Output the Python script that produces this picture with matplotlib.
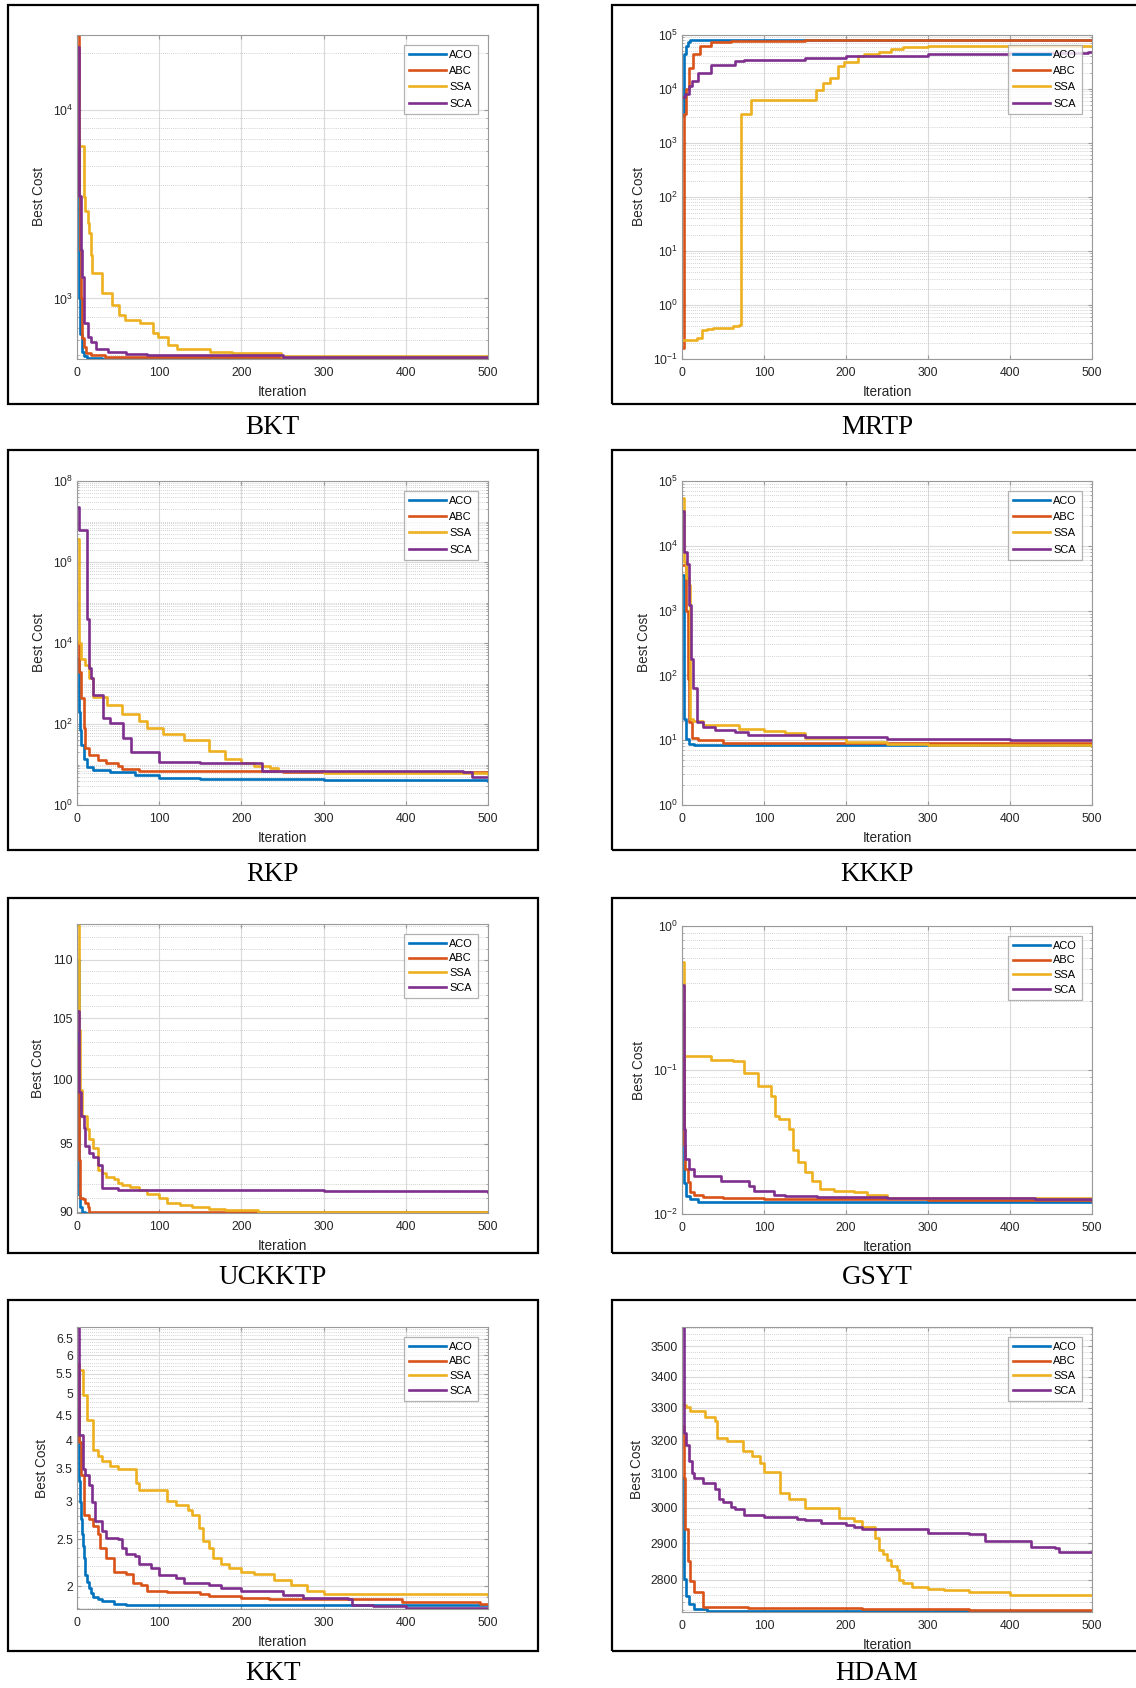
import numpy as np
import matplotlib
matplotlib.use('Agg')
import matplotlib.pyplot as plt
from matplotlib.patches import Rectangle
from matplotlib.ticker import (FixedLocator, LogLocator, LogFormatterSciNotation,
                               MultipleLocator, NullFormatter)

plt.rcParams['font.family'] = ['Liberation Sans', 'DejaVu Sans']
plt.rcParams['mathtext.default'] = 'regular'

W, H = 1136, 1688  # output size in pixels

algorithms = ['ACO', 'ABC', 'SSA', 'SCA']
colors = ['#0072BD', '#D95319', '#EDB120', '#7E2F8E']
iter_ticks = [0, 100, 200, 300, 400, 500]

# best cost per iteration as (iteration, cost) breakpoints
bkt_aco = [(1, 7100), (2, 2200), (3, 1000), (4, 650), (6, 520), (8, 495), (12, 485), (30, 480), (500, 478)]
bkt_abc = [(1, 24800), (2, 9000), (3, 3500), (4, 1800), (5, 1000), (6, 620), (8, 555), (11, 512), (17, 502),
           (34, 491), (120, 487), (300, 484), (500, 483)]
bkt_ssa = [(1, 14000), (2, 9500), (3, 6400), (8, 3450), (10, 2900), (13, 2500), (15, 2210), (17, 1700),
           (18, 1356), (30, 1063), (43, 922), (51, 816), (58, 768), (77, 738), (92, 653), (98, 627),
           (111, 566), (122, 537), (162, 522), (188, 512), (248, 496), (500, 496)]
bkt_sca = [(1, 21500), (2, 8000), (3, 3500), (5, 1800), (6, 1300), (8, 740), (13, 627), (17, 590),
           (23, 543), (38, 522), (60, 508), (85, 500), (250, 488), (500, 485)]

mrtp_aco = [(1, 3200), (2, 25000), (3, 45000), (5, 63000), (7, 74000), (10, 81000), (15, 82000), (500, 82000)]
mrtp_abc = [(1, 0.158), (2, 3500), (5, 10000), (8, 25000), (14, 44000), (22, 63000), (35, 74000),
            (60, 78000), (150, 80500), (500, 81000)]
mrtp_ssa = [(1, 0.225), (18, 0.24), (24, 0.344), (30, 0.36), (38, 0.38), (62, 0.41), (70, 0.425),
            (72, 3440), (84, 6350), (164, 9600), (172, 12700), (180, 16000), (190, 27000), (198, 32000),
            (215, 40000), (222, 44600), (240, 48000), (255, 55000), (270, 59000), (300, 62500), (500, 63000)]
mrtp_sca = [(1, 7000), (4, 8100), (8, 11500), (12, 13900), (20, 20000), (35, 28000), (65, 32700),
            (75, 35000), (150, 37500), (200, 40300), (300, 44500), (400, 46000), (495, 48000), (500, 48000)]

rkp_aco = [(1, 4100), (2, 1000), (3, 200), (4, 70), (5, 30), (8, 14), (12, 8.8), (20, 7.3), (40, 6.4),
           (70, 5.5), (100, 4.7), (150, 4.4), (300, 4.1), (500, 4.0)]
rkp_abc = [(1, 10700), (3, 1950), (5, 430), (8, 78), (10, 25), (15, 17), (25, 13), (35, 10.6), (50, 9.3),
           (55, 7.7), (75, 6.9), (250, 6.5), (500, 6.2)]
rkp_ssa = [(1, 3.6e6), (2, 23000), (3, 10000), (5, 4100), (10, 2850), (15, 1330), (20, 470), (37, 295),
           (55, 180), (75, 122), (85, 78), (105, 57), (130, 40), (160, 21), (180, 14), (200, 10.6),
           (215, 9.3), (235, 8.3), (245, 6.9), (300, 6.0), (500, 5.9)]
rkp_sca = [(1, 2.3e7), (2, 6e6), (12, 40000), (14, 2350), (17, 1330), (20, 515), (32, 137), (40, 103),
           (56, 44), (66, 20), (100, 11.7), (150, 10.6), (225, 6.9), (470, 6.6), (480, 5.0), (500, 5.0)]

kkkp_aco = [(1, 3500), (2, 89), (3, 21), (5, 10.5), (8, 8.8), (15, 8.3), (500, 8.0)]
kkkp_abc = [(1, 5000), (5, 1000), (7, 89), (9, 19), (12, 11), (20, 10), (50, 9.1), (500, 8.8)]
kkkp_ssa = [(1, 55000), (2, 5600), (5, 3150), (8, 2500), (10, 21), (13, 19.5), (25, 17), (70, 15),
            (100, 14), (125, 13), (150, 11), (200, 9.5), (250, 8.8), (300, 8.3), (500, 8.2)]
kkkp_sca = [(1, 34000), (3, 8000), (6, 5300), (8, 1220), (11, 180), (14, 63), (18, 19), (25, 16),
            (40, 14.6), (65, 13.3), (80, 12), (150, 11.4), (250, 10.5), (400, 10.2), (500, 10.2)]

uckktp_aco = [(1, 110.0), (2, 101.0), (3, 91.2), (4, 90.3), (6, 90.0), (10, 89.9), (500, 89.9)]
uckktp_abc = [(1, 102.7), (2, 96.2), (3, 93.8), (4, 91.0), (7, 90.9), (10, 90.6), (13, 90.3), (15, 90.0),
              (150, 89.95), (500, 89.9)]
uckktp_ssa = [(1, 113.2), (2, 110.0), (3, 104.0), (4, 99.2), (6, 97.1), (12, 96.1), (15, 95.4), (20, 94.7),
              (25, 93.0), (30, 92.8), (35, 92.5), (45, 92.4), (50, 92.1), (55, 91.9), (65, 91.8),
              (75, 91.6), (85, 91.3), (100, 91.0), (110, 90.6), (125, 90.5), (140, 90.3), (160, 90.2),
              (180, 90.1), (220, 90.0), (500, 89.95)]
uckktp_sca = [(1, 105.6), (2, 102.0), (3, 99.0), (5, 97.1), (8, 96.2), (10, 94.8), (15, 94.3), (20, 94.0),
              (25, 93.4), (30, 91.7), (50, 91.6), (140, 91.55), (300, 91.5), (500, 91.45)]

gsyt_aco = [(1, 0.0697), (2, 0.0253), (3, 0.0165), (5, 0.0133), (10, 0.0127), (20, 0.0122), (500, 0.0122)]
gsyt_abc = [(1, 0.25), (2, 0.086), (3, 0.030), (4, 0.0205), (7, 0.0167), (10, 0.0142), (15, 0.0135),
            (25, 0.0131), (50, 0.0130), (100, 0.0128), (300, 0.0125), (500, 0.0123)]
gsyt_ssa = [(1, 0.56), (2, 0.172), (3, 0.126), (35, 0.118), (62, 0.115), (75, 0.0958), (93, 0.078),
            (108, 0.066), (113, 0.048), (118, 0.0455), (130, 0.0387), (135, 0.028), (142, 0.0228),
            (150, 0.0195), (158, 0.017), (168, 0.0149), (185, 0.0145), (210, 0.0143), (225, 0.0135),
            (250, 0.0130), (500, 0.0127)]
gsyt_sca = [(1, 0.39), (2, 0.0387), (4, 0.024), (8, 0.0205), (15, 0.0184), (48, 0.017), (82, 0.0157),
            (88, 0.0145), (112, 0.0136), (125, 0.0134), (165, 0.0131), (250, 0.0129), (430, 0.0127),
            (500, 0.0126)]

kkt_aco = [(1, 4.6), (2, 3.62), (3, 3.3), (4, 2.99), (5, 2.75), (6, 2.56), (7, 2.42), (8, 2.29), (10, 2.11),
           (12, 2.04), (14, 1.985), (17, 1.94), (20, 1.905), (25, 1.88), (30, 1.865), (45, 1.84),
           (60, 1.83), (500, 1.83)]
kkt_abc = [(1, 5.77), (2, 4.24), (3, 3.98), (5, 3.40), (8, 2.81), (15, 2.76), (20, 2.67), (25, 2.56),
           (28, 2.40), (35, 2.29), (45, 2.14), (60, 2.12), (68, 2.03), (78, 2.016), (85, 1.96), (110, 1.95),
           (150, 1.93), (160, 1.91), (200, 1.89), (233, 1.88), (395, 1.86), (490, 1.84), (500, 1.84)]
kkt_ssa = [(1, 5.6), (7, 4.97), (12, 4.42), (20, 3.83), (25, 3.72), (30, 3.63), (40, 3.54), (50, 3.50),
           (72, 3.27), (75, 3.16), (110, 3.0), (120, 2.95), (135, 2.88), (140, 2.81), (148, 2.64),
           (153, 2.48), (160, 2.40), (165, 2.29), (175, 2.22), (185, 2.18), (200, 2.14), (215, 2.12),
           (240, 2.06), (260, 2.016), (280, 1.955), (300, 1.93), (500, 1.92)]
kkt_sca = [(1, 6.87), (2, 4.1), (7, 3.5), (10, 3.4), (15, 3.24), (18, 2.99), (22, 2.73), (30, 2.60),
           (35, 2.52), (50, 2.50), (55, 2.40), (60, 2.33), (70, 2.31), (75, 2.22), (90, 2.18), (100, 2.11),
           (120, 2.08), (130, 2.03), (160, 2.016), (175, 1.985), (200, 1.96), (240, 1.955), (250, 1.92),
           (275, 1.89), (330, 1.88), (335, 1.83), (360, 1.82), (400, 1.80), (500, 1.795)]

hdam_aco = [(1, 3085), (2, 2940), (3, 2802), (5, 2757), (8, 2735), (15, 2722), (30, 2718), (500, 2715)]
hdam_abc = [(1, 3242), (2, 3085), (4, 2940), (7, 2850), (10, 2796), (15, 2768), (25, 2728), (45, 2727),
            (80, 2725), (220, 2722), (350, 2720), (500, 2718)]
hdam_ssa = [(1, 3310), (5, 3302), (10, 3290), (28, 3270), (40, 3260), (43, 3206), (55, 3196), (74, 3168),
            (85, 3150), (95, 3130), (100, 3103), (120, 3041), (130, 3025), (150, 2999), (192, 2970),
            (210, 2962), (220, 2945), (235, 2915), (240, 2880), (245, 2871), (250, 2853), (255, 2836),
            (262, 2827), (265, 2800), (270, 2791), (280, 2781), (300, 2776), (320, 2774), (350, 2767),
            (400, 2759), (500, 2759)]
hdam_sca = [(1, 3565), (2, 3405), (3, 3222), (5, 3185), (8, 3135), (12, 3100), (15, 3085), (25, 3070),
            (40, 3054), (45, 3025), (50, 3015), (60, 3003), (65, 2995), (75, 2978), (100, 2972), (140, 2968),
            (150, 2964), (170, 2956), (200, 2951), (210, 2945), (220, 2940), (300, 2928), (350, 2924),
            (370, 2906), (425, 2889), (455, 2885), (460, 2874), (500, 2874)]

# y tick values for the panels with plain (non 10^k) labels
uckktp_yticks = [90, 95, 100, 105, 110]
kkt_yticks = [2, 2.5, 3, 3.5, 4, 4.5, 5, 5.5, 6, 6.5]
hdam_yticks = [2800, 2900, 3000, 3100, 3200, 3300, 3400, 3500]

# name, series, frame box (l, t, r, b px), axes box (l, t, r, b px), caption y, y limits, y ticks, minor step
panels = [
    ('BKT', [bkt_aco, bkt_abc, bkt_ssa, bkt_sca], (7.5, 4.5, 538, 404), (77, 35, 488, 359), 428,
     None, [1e3, 1e4], None),
    ('MRTP', [mrtp_aco, mrtp_abc, mrtp_ssa, mrtp_sca], (612, 4.5, 1145, 404), (682, 35, 1092, 359), 428,
     (0.1, 1e5), list(10.0 ** np.arange(-1, 6)), None),
    ('RKP', [rkp_aco, rkp_abc, rkp_ssa, rkp_sca], (7.5, 450, 538, 849.5), (77, 481, 488, 805), 874,
     (1, 1e8), list(10.0 ** np.arange(0, 9, 2)), None),
    ('KKKP', [kkkp_aco, kkkp_abc, kkkp_ssa, kkkp_sca], (612, 450, 1145, 849.5), (682, 481, 1092, 805), 874,
     (1, 1e5), list(10.0 ** np.arange(0, 6)), None),
    ('UCKKTP', [uckktp_aco, uckktp_abc, uckktp_ssa, uckktp_sca], (7.5, 897.5, 538, 1253),
     (77, 924, 488, 1213), 1277, None, uckktp_yticks, 1),
    ('GSYT', [gsyt_aco, gsyt_abc, gsyt_ssa, gsyt_sca], (612, 897.5, 1145, 1253), (682, 926, 1092, 1214), 1277,
     (0.01, 1), [0.01, 0.1, 1], None),
    ('KKT', [kkt_aco, kkt_abc, kkt_ssa, kkt_sca], (7.5, 1299.5, 538, 1650.5), (77, 1327, 488, 1609), 1674,
     None, kkt_yticks, 0.1),
    ('HDAM', [hdam_aco, hdam_abc, hdam_ssa, hdam_sca], (612, 1299.5, 1145, 1650.5), (682, 1327, 1092, 1612), 1674,
     None, hdam_yticks, 20),
]

fig = plt.figure(figsize=(W / 100, H / 100), dpi=100)
fig.patch.set_facecolor('white')

for i, (name, series, frame, box, cap_y, ylim, yticks, minor_step) in enumerate(panels):
    # black frame around each sub-figure
    fl, ft, fr, fb = frame
    fig.add_artist(Rectangle((fl / W, 1 - fb / H), (fr - fl) / W, (fb - ft) / H,
                             transform=fig.transFigure, fill=False, ec='black', lw=1.6))
    cx = (fl + 538) / 2 / W if fl < 100 else 877 / W
    fig.text(cx, 1 - cap_y / H, name, ha='center', va='center', fontsize=19.5,
             family=['Liberation Serif', 'DejaVu Serif'])

    l, t, r, b = box
    ax = fig.add_axes([l / W, 1 - b / H, (r - l) / W, (b - t) / H])
    for (pts, alg, col) in zip(series, algorithms, colors):
        its = [p[0] for p in pts]
        cost = [p[1] for p in pts]
        ax.step(its, cost, where='post', color=col, lw=1.9, label=alg)

    ax.set_yscale('log')
    ax.set_xlim(0, 500)
    if ylim is None:
        allc = [p[1] for pts in series for p in pts]
        ax.set_ylim(min(allc), max(allc))
    else:
        ax.set_ylim(*ylim)
    ax.set_xticks(iter_ticks)

    if minor_step is None:
        ax.yaxis.set_major_locator(FixedLocator(yticks))
        ax.yaxis.set_major_formatter(LogFormatterSciNotation())
        ax.yaxis.set_minor_locator(LogLocator(base=10, subs=np.arange(1, 10), numticks=100))
    else:
        ax.set_yticks(yticks, labels=[('%g' % v) for v in yticks])
        ax.yaxis.set_minor_locator(MultipleLocator(minor_step))
    ax.yaxis.set_minor_formatter(NullFormatter())

    ax.grid(True, which='major', color='#dadada', lw=0.8)
    ax.grid(True, which='minor', axis='y', color='#c4c4c4', lw=0.6, ls=(0, (1, 1.5)))
    ax.set_axisbelow(True)
    for s in ax.spines.values():
        s.set_color('#9a9a9a')
        s.set_linewidth(0.8)
    ax.tick_params(which='both', direction='in', top=True, right=True, colors='#9a9a9a',
                   labelcolor='#262626', labelsize=8.8)
    ax.tick_params(which='major', length=3)
    ax.tick_params(axis='x', which='major', pad=6)
    ax.tick_params(axis='y', which='major', pad=3)
    ax.tick_params(which='minor', length=1.5)

    ax.set_xlabel('Iteration', fontsize=9.8, color='#262626', labelpad=4)
    ax.set_ylabel('Best Cost', fontsize=9.8, color='#262626', labelpad=5)

    leg = ax.legend(loc='upper right', fontsize=7.9, frameon=True, fancybox=False,
                    borderaxespad=0.9, handlelength=3.4, handletextpad=0.3,
                    labelspacing=0.57 if i < 4 else 0.42, borderpad=0.45)
    leg.get_frame().set_edgecolor('#a0a0a0')
    leg.get_frame().set_linewidth(0.9)

fig.savefig('out.png', dpi=100, facecolor='white')
